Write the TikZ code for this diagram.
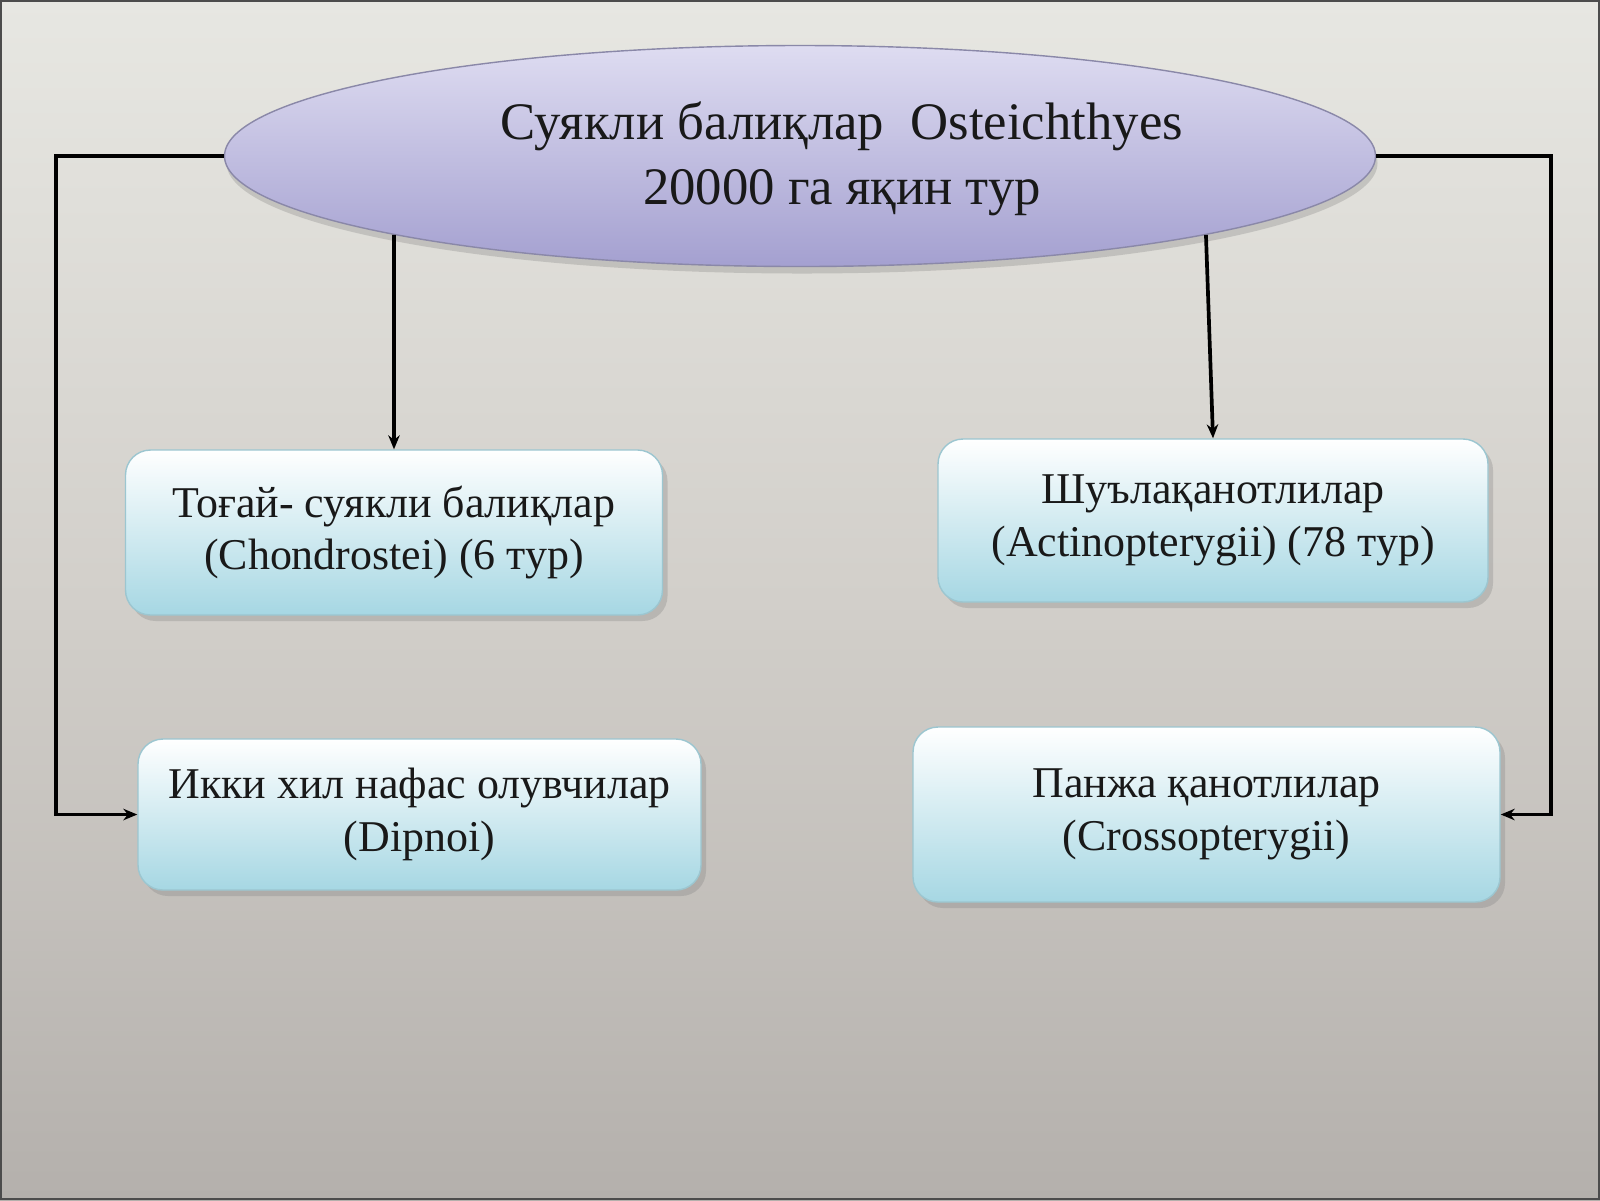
\documentclass[tikz,border=0pt]{standalone}
\usepackage{fontspec}
\setmainfont{Liberation Serif}
\usetikzlibrary{shapes.geometric,shadows,arrows.meta}
\definecolor{bgtop}{HTML}{E7E7E2}
\definecolor{bgmid}{HTML}{D2CFCA}
\definecolor{bgbottom}{HTML}{B4B0AC}
\definecolor{ovaltop}{HTML}{DEDCF1}
\definecolor{ovalbottom}{HTML}{A4A0D0}
\definecolor{ovalline}{HTML}{8A88A8}
\definecolor{boxbottom}{HTML}{A6D7E3}
\definecolor{boxline}{HTML}{9CC6D0}
\tikzstyle{topic} = [ellipse, draw=ovalline, top color=ovaltop, bottom color=ovalbottom, minimum width=11.51cm, minimum height=2.21cm, drop shadow={opacity=0.3, shadow xshift=0.02cm, shadow yshift=-0.07cm}]
\tikzstyle{taxon} = [rectangle, draw=boxline, rounded corners=0.25cm, top color=white, bottom color=boxbottom, align=center, text=black!90, font=\fontsize{12.5}{15}\selectfont, drop shadow={opacity=0.3, shadow xshift=0.05cm, shadow yshift=-0.06cm}]
\tikzstyle{link} = [draw, line width=1.05pt]

\begin{document}
\begin{tikzpicture}[>={Stealth[length=1.4mm, width=1.15mm]}]
		\useasboundingbox (0,0) rectangle (16,-12);
		\fill [top color=bgtop, bottom color=bgbottom, middle color=bgmid] (0,0) rectangle (16,-12);
		\draw [gray!60!black, line width=0.6pt] (0.01,-0.01) rectangle (15.99,-11.99);

		\node [topic] (topic) at (8.0,-1.56) {};
		\node [align=center, text=black!90, font=\fontsize{15}{18.4}\selectfont] (topictext) at ([xshift=0.42cm, yshift=-0.03cm]topic.center) {Суякли балиқлар\ \ Osteichthyes\\20000 га яқин тур};
		\node [taxon, minimum width=5.37cm, minimum height=1.65cm] (chondro) at (3.94,-5.325) {Тоғай- суякли балиқлар\\(Chondrostei) (6 тур)};
		\node [taxon, minimum width=5.50cm, minimum height=1.63cm] (actino) at (12.13,-5.205) {Шуълақанотлилар\\(Actinopterygii) (78 тур)};
		\node [taxon, minimum width=5.63cm, minimum height=1.51cm] (dipnoi) at (4.195,-8.145) {Икки хил нафас олувчилар\\(Dipnoi)};
		\node [taxon, minimum width=5.87cm, minimum height=1.75cm] (crosso) at (12.065,-8.145) {Панжа қанотлилар\\(Crossopterygii)};

		\draw [link, ->] (topic.191) -- (chondro.north);
		\draw [link, ->] (topic.349) -- (actino.north);
		\draw [link, ->] (topic.west) -- ++(-1.68,0) |- (dipnoi.west);
		\draw [link, ->] (topic.east) -- ++(1.75,0) |- (crosso.east);
\end{tikzpicture}
\end{document}
